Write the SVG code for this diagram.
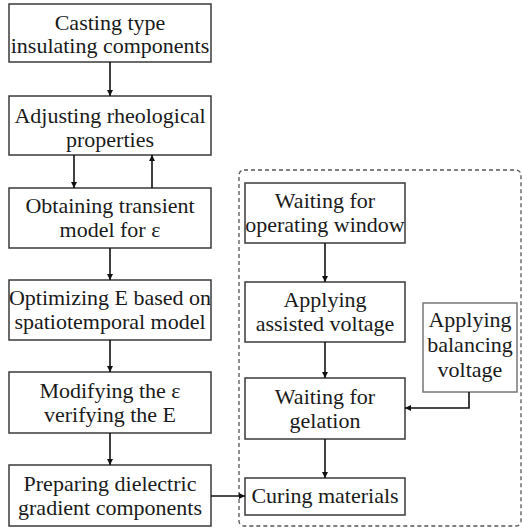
<svg xmlns="http://www.w3.org/2000/svg" width="522" height="528" viewBox="0 0 522 528">
<defs>
<style>
.box{fill:#fff;stroke:#3a3a3a;stroke-width:1.5}
.lbl{font-size:22px;fill:#1a1a1a;text-anchor:middle}
.con{fill:none;stroke:#111;stroke-width:1.6;marker-end:url(#ah)}
.dash{fill:none;stroke:#555;stroke-width:1.3;stroke-dasharray:4 3}
</style>
<marker id="ah" viewBox="0 0 10 10" refX="10" refY="5" markerWidth="4" markerHeight="4" orient="auto" markerUnits="strokeWidth">
<path d="M0,0 L10,5 L0,10 z" fill="#111"/>
</marker>
</defs>
<rect width="522" height="528" fill="#fff"/>
<rect class="dash" x="239" y="170" width="282" height="356" rx="5"/>
<g font-family="Liberation Serif, DejaVu Serif, serif">
<g id="n1"><rect class="box" x="9" y="4" width="202" height="58"/>
<text class="lbl" x="110" y="30">Casting type</text><text class="lbl" x="110" y="53">insulating components</text></g>
<g id="n2"><rect class="box" x="9" y="96" width="202" height="59"/>
<text class="lbl" x="110" y="123">Adjusting rheological</text><text class="lbl" x="110" y="147">properties</text></g>
<g id="n3"><rect class="box" x="9" y="188" width="202" height="60"/>
<text class="lbl" x="110" y="213">Obtaining transient</text><text class="lbl" x="110" y="237">model for ε</text></g>
<g id="n4"><rect class="box" x="9" y="280" width="202" height="60"/>
<text class="lbl" x="110" y="305">Optimizing E based on</text><text class="lbl" x="110" y="329">spatiotemporal model</text></g>
<g id="n5"><rect class="box" x="9" y="372" width="202" height="61"/>
<text class="lbl" x="110" y="398">Modifying the ε</text><text class="lbl" x="110" y="422">verifying the E</text></g>
<g id="n6"><rect class="box" x="9" y="465" width="202" height="61"/>
<text class="lbl" x="110" y="491">Preparing dielectric</text><text class="lbl" x="110" y="515">gradient components</text></g>

<g id="r1"><rect class="box" x="245" y="183" width="160" height="60"/>
<text class="lbl" x="325" y="208">Waiting for</text><text class="lbl" x="325" y="232">operating window</text></g>
<g id="r2"><rect class="box" x="245" y="282" width="160" height="60"/>
<text class="lbl" x="325" y="307">Applying</text><text class="lbl" x="325" y="331">assisted voltage</text></g>
<g id="r3"><rect class="box" x="245" y="378" width="160" height="61"/>
<text class="lbl" x="325" y="404">Waiting for</text><text class="lbl" x="325" y="428">gelation</text></g>
<g id="r4"><rect class="box" x="245" y="478" width="160" height="37"/>
<text class="lbl" x="325" y="503">Curing materials</text></g>
<g id="b1"><rect class="box" x="423" y="303" width="94" height="89" style="stroke:#777"/>
<text class="lbl" x="470" y="327">Applying</text><text class="lbl" x="470" y="352">balancing</text><text class="lbl" x="470" y="377">voltage</text></g>
</g>
<g id="connectors">
<line class="con" x1="110" y1="62" x2="110" y2="96"/>
<line class="con" x1="74" y1="155" x2="74" y2="188"/>
<line class="con" x1="152" y1="188" x2="152" y2="155"/>
<line class="con" x1="110" y1="248" x2="110" y2="280"/>
<line class="con" x1="110" y1="340" x2="110" y2="372"/>
<line class="con" x1="110" y1="433" x2="110" y2="465"/>
<line class="con" x1="211" y1="496" x2="245" y2="496"/>
<line class="con" x1="325" y1="243" x2="325" y2="282"/>
<line class="con" x1="325" y1="342" x2="325" y2="378"/>
<line class="con" x1="325" y1="439" x2="325" y2="478"/>
<path class="con" d="M469,392 V408 H405"/>
</g>
</svg>
